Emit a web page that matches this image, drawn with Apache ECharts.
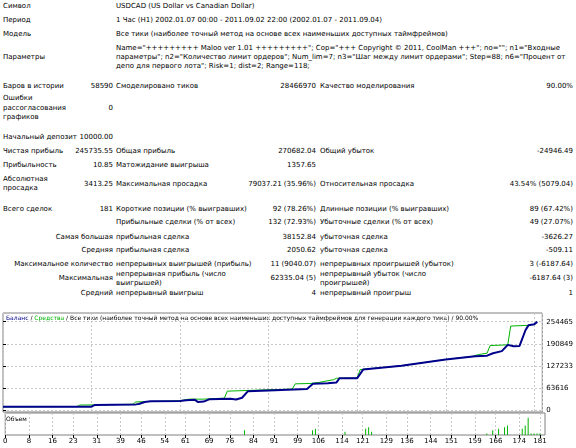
<!DOCTYPE html>
<html><head><meta charset="utf-8">
<script src="https://cdn.jsdelivr.net/npm/echarts@6/dist/echarts.min.js"></script>
<style>
body{margin:0;width:576px;height:448px;background:#fff;font-family:"DejaVu Sans",sans-serif;font-size:7px;color:#000;position:relative;overflow:hidden}
.t{position:absolute;white-space:nowrap;line-height:10px}
.r{text-align:right}
#c{position:absolute;left:0;top:305px;width:576px;height:143px}
</style></head><body>
<div id="c"></div>
<script>
// ---- data ----
const balTrades=[0,30,31,45,46,48,50,60,62,65,66,68,70,77,79,81,83,90,103,105,110,113,114,120,122,135,150,160,164,166,169,171,173,175,177,178,180,181];
const balValues=[10000,10500,15000,17000,18000,24000,26000,27000,29000,30000,24000,25000,32000,33000,31000,36000,55000,57000,61000,76000,78000,80000,92000,92000,117000,128000,146000,155000,157000,164000,170000,188000,184000,185000,230000,244000,247000,254000];
const eqTrades=[0,25,26,31,44,45,49,60,63,68,70,75,76,83,98,99,104,107,112,113,120,121,135,150,159,161,164,165,171,172,178,180,181];
const eqValues=[10000,10500,15000,15500,17500,24000,25000,27500,32000,32000,33000,35000,55000,57000,61000,76000,77000,80000,88000,92000,93000,117000,128000,146000,155000,160000,164000,186000,188000,242000,244000,247000,254000];
const volTrades=[81,104,105,115,122,123,124,163,165,167,169,170,175,176,177,178,179,180,181];
const volValues=[1.5,1.5,2,1,2,2.5,1,0.5,1.5,2,2.5,3,2,3,5.5,0.5,0.5,0.5,0.5];
const xTickLabels=[0,8,16,23,31,39,46,54,61,69,76,84,91,99,106,114,121,129,136,144,151,159,166,174,181];
const yTickLabels=[0,63616,127233,190849,254465];

// ---- text table ----
function put(x,cy,s,right,w){const d=document.createElement('div');d.className='t'+(right?' r':'');d.style.top=(cy-5)+'px';
 if(right){d.style.left=(x-(w||200))+'px';d.style.width=(w||200)+'px';}else d.style.left=x+'px';d.textContent=s;document.body.appendChild(d);}
const L=3,V2=113,C3=116,V3=316,C4=320,V4=573;
put(L,6,'Символ');put(C3,6,'USDCAD (US Dollar vs Canadian Dollar)');
put(L,20,'Период');put(C3,20,'1 Час (H1) 2002.01.07 00:00 - 2011.09.02 22:00 (2002.01.07 - 2011.09.04)');
put(L,34,'Модель');put(C3,34,'Все тики (наиболее точный метод на основе всех наименьших доступных таймфреймов)');
put(L,57,'Параметры');
put(C3,48,'Name="+++++++++ Maloo ver 1.01 +++++++++"; Cop="+++ Copyright © 2011, CoolMan +++"; no=""; n1="Входные');
put(C3,57,'параметры"; n2="Количество лимит ордеров"; Num_lim=7; n3="Шаг между лимит ордерами"; Step=88; n6="Процент от');
put(C3,66,'депо для первого лота"; Risk=1; dist=2; Range=118;');
put(L,86,'Баров в истории');put(V2,86,'58590',1);put(C3,86,'Смоделировано тиков');put(V3,86,'28466970',1);put(C4,86,'Качество моделирования');put(V4,86,'90.00%',1);
put(L,98,'Ошибки');put(L,108,'рассогласования');put(L,117,'графиков');put(V2,108,'0',1);
put(L,137,'Начальный депозит');put(V2,137,'10000.00',1);
put(L,151,'Чистая прибыль');put(V2,151,'245735.55',1);put(C3,151,'Общая прибыль');put(V3,151,'270682.04',1);put(C4,151,'Общий убыток');put(V4,151,'-24946.49',1);
put(L,165,'Прибыльность');put(V2,165,'10.85',1);put(C3,165,'Матожидание выигрыша');put(V3,165,'1357.65',1);
put(L,179,'Абсолютная');put(L,188,'просадка');put(V2,184,'3413.25',1);put(C3,184,'Максимальная просадка');put(V3,184,'79037.21 (35.96%)',1);put(C4,184,'Относительная просадка');put(V4,184,'43.54% (5079.04)',1);
put(L,209,'Всего сделок');put(V2,209,'181',1);put(C3,209,'Короткие позиции (% выигравших)');put(V3,209,'92 (78.26%)',1);put(C4,209,'Длинные позиции (% выигравших)');put(V4,209,'89 (67.42%)',1);
put(C3,222,'Прибыльные сделки (% от всех)');put(V3,222,'132 (72.93%)',1);put(C4,222,'Убыточные сделки (% от всех)');put(V4,222,'49 (27.07%)',1);
put(V2,237,'Самая большая',1);put(C3,237,'прибыльная сделка');put(V3,237,'38152.84',1);put(C4,237,'убыточная сделка');put(V4,237,'-3626.27',1);
put(V2,250,'Средняя',1);put(C3,250,'прибыльная сделка');put(V3,250,'2050.62',1);put(C4,250,'убыточная сделка');put(V4,250,'-509.11',1);
put(V2,264,'Максимальное количество',1);put(C3,264,'непрерывных выигрышей (прибыль)');put(V3,264,'11 (9040.07)',1);put(C4,264,'непрерывных проигрышей (убыток)');put(V4,264,'3 (-6187.64)',1);
put(V2,278,'Максимальная',1);put(C3,274,'непрерывная прибыль (число');put(C3,283,'выигрышей)');put(V3,278,'62335.04 (5)',1);put(C4,274,'непрерывный убыток (число');put(C4,283,'проигрышей)');put(V4,278,'-6187.64 (3)',1);
put(V2,293,'Средний',1);put(C3,293,'непрерывный выигрыш');put(V3,293,'4',1);put(C4,293,'непрерывный проигрыш');put(V4,293,'1',1);

// ---- chart ----
const ch=echarts.init(document.getElementById('c'),null,{renderer:'canvas'});
const gridStyle={show:true,lineStyle:{color:'#c8c8c8',type:[2,2],width:1}};
ch.setOption({
 animation:false,
 textStyle:{fontFamily:'DejaVu Sans',fontSize:7},
 grid:[{left:3,right:31,top:8,height:99,show:true,borderColor:'#808080',borderWidth:1,backgroundColor:'#fff'},
       {left:3,right:31,top:108,height:22,show:true,borderColor:'#808080',borderWidth:1}],
 xAxis:[{type:'value',gridIndex:0,min:0,max:182.7,axisLine:{show:false},axisTick:{show:false},axisLabel:{show:false},
         splitLine:gridStyle},
        {type:'value',gridIndex:1,min:0,max:182.7,axisLine:{show:false},
         axisTick:{show:true,customValues:xTickLabels,length:3,lineStyle:{color:'#000'}},
         axisLabel:{customValues:xTickLabels,fontSize:7,color:'#000',margin:3},splitLine:gridStyle}],
 yAxis:[{type:'value',gridIndex:0,position:'right',min:-4900,max:279500,
         axisLine:{show:false},axisTick:{show:true,customValues:yTickLabels,length:3,lineStyle:{color:'#000'}},
         axisLabel:{customValues:yTickLabels,fontSize:7,color:'#000',margin:4,formatter:v=>String(v)},splitLine:gridStyle},
        {type:'value',gridIndex:1,position:'right',min:0,max:7,axisLine:{show:false},axisTick:{show:false},axisLabel:{show:false},splitLine:{show:false}}],
 series:[
  {type:'line',xAxisIndex:0,yAxisIndex:0,data:eqTrades.map((t,i)=>[t,eqValues[i]]),showSymbol:false,lineStyle:{color:'#00b400',width:1},z:2},
  {type:'line',xAxisIndex:0,yAxisIndex:0,data:balTrades.map((t,i)=>[t,balValues[i]]),showSymbol:false,lineStyle:{color:'#00008c',width:2},z:3},
  {type:'bar',xAxisIndex:1,yAxisIndex:1,data:volTrades.map((t,i)=>[t,volValues[i]]),barWidth:1,itemStyle:{color:'#00b400'}}
 ],
 graphic:[
  {type:'text',left:6,top:10,style:{text:'{b|Баланс} / {g|Средства} / Все тики (наиболее точный метод на основе всех наименьших доступных таймфреймов для генерации каждого тика) / 90.00%',
    rich:{b:{fill:'#00008c',fontSize:6,fontFamily:'DejaVu Sans'},g:{fill:'#00b400',fontSize:6,fontFamily:'DejaVu Sans'}},fontSize:6,fill:'#000',fontFamily:'DejaVu Sans'}},
  {type:'text',left:6,top:111,style:{text:'Объем',fontSize:6,fill:'#000',fontFamily:'DejaVu Sans'}}
 ]
});
</script></body></html>
